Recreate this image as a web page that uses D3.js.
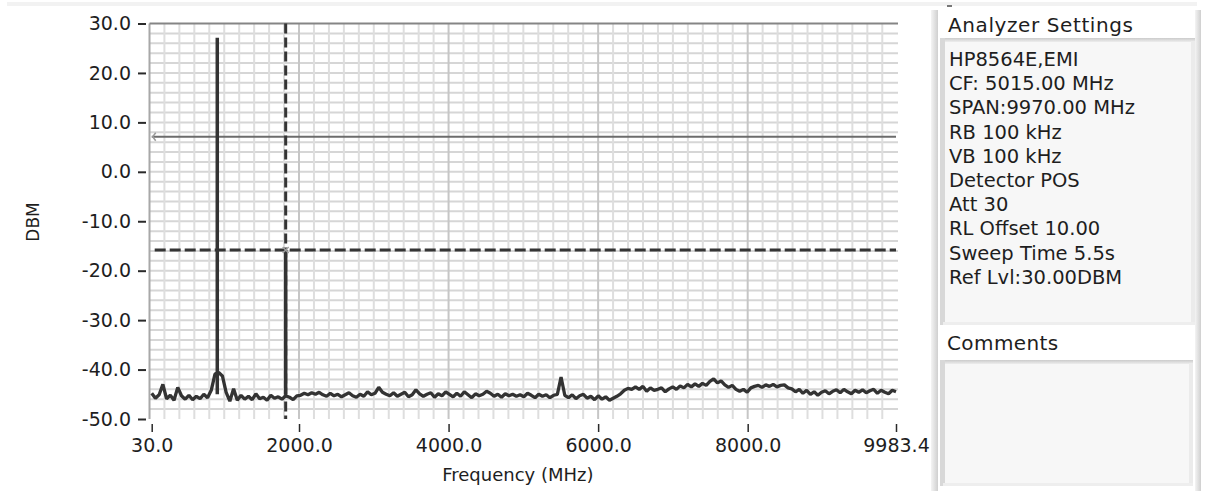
<!DOCTYPE html>
<html>
<head>
<meta charset="utf-8">
<script src="https://cdn.jsdelivr.net/npm/d3@7"></script>
<style>
  html, body { margin: 0; padding: 0; background: #ffffff; }
  svg { display: block; font-family: "DejaVu Sans", Verdana, sans-serif; }
</style>
</head>
<body>
<svg id="chart" width="1205" height="491"></svg>
<script>
// ---- Sweep data (HP8564E, 30 MHz .. 9983.4 MHz, 201 trace bins) ----
const freqStart = 30.0;
const freqStop = 9983.4;
const traceLevels = [
  -44.8, -45.8, -45.1, -43.0, -45.9, -45.2, -46.2, -43.6, -45.3, -46.0,
  -45.2, -46.1, -45.4, -45.9, -45.0, -45.7, -44.2, -40.9, -40.6, -41.3,
  -44.6, -46.4, -43.9, -46.2, -45.2, -46.0, -45.4, -46.1, -44.9, -45.9,
  -45.6, -46.2, -45.2, -45.8, -45.5, -46.0, -45.3, -45.6, -46.1, -45.3,
  -45.2, -44.8, -45.1, -44.7, -45.0, -44.6, -45.1, -45.4, -44.8, -45.3,
  -45.0, -45.5, -45.1, -44.7, -45.3, -45.6, -45.0, -45.4, -44.5, -45.1,
  -44.8, -43.6, -44.6, -45.0, -45.3, -44.7, -45.4, -45.0, -44.6, -45.5,
  -45.1, -44.1, -44.9, -45.4, -45.0, -44.7, -45.6, -44.9, -45.3, -44.5,
  -45.0, -45.5, -44.8, -45.4, -44.5, -45.1, -45.7, -44.9, -45.3, -45.0,
  -44.4, -44.8, -45.4, -45.0, -45.6, -44.9, -45.3, -45.0, -45.4, -45.1,
  -45.5, -44.8, -45.2, -45.7, -45.0, -45.4, -45.1, -45.7, -45.2, -45.0,
  -41.5, -45.2, -45.7, -45.1, -45.9, -45.3, -45.0, -45.8, -45.4, -46.1,
  -45.3, -46.0, -45.5, -46.2, -45.8, -45.4, -44.9, -44.2, -43.8, -44.0,
  -43.5, -44.0, -43.4, -44.4, -43.7, -44.2, -44.0, -43.7, -44.5, -43.9,
  -43.5, -44.0, -43.3, -43.7, -43.0, -43.5, -42.9, -43.4, -42.8, -43.2,
  -42.4, -41.9, -42.7, -42.3, -43.1, -43.6, -43.2, -44.0, -44.4, -44.0,
  -44.6, -43.7, -43.4, -43.2, -43.6, -43.1, -43.4, -43.0, -43.5, -43.2,
  -43.1, -43.7, -43.9, -44.5, -44.0, -44.8, -44.2, -45.0, -44.5, -45.2,
  -44.6, -44.3, -44.9, -44.4, -44.1, -44.7, -44.0, -44.5, -44.9, -44.2,
  -44.6, -44.1, -44.7, -44.3, -44.0, -44.8, -44.2, -44.6, -44.9, -44.2,
  -44.5
];

// Narrow carriers that rise out of the noise floor
const peakFreqs = [907.0, 1821.7];
const peakLevels = [27.1, -15.8];

// ---- Axis ticks ----
const xTickValues = [30.0, 2000.0, 4000.0, 6000.0, 8000.0, 9983.4];
const yTickValues = [30, 20, 10, 0, -10, -20, -30, -40, -50];

// ---- Cursors and limit line ----
const limitLevel = 7.1;
const cursorFreq = 1821.7;
const cursorLevel = -15.8;

// ---- Side panel text ----
const settingsTitle = "Analyzer Settings";
const settingsLines = [
  "HP8564E,EMI",
  "CF: 5015.00 MHz",
  "SPAN:9970.00 MHz",
  "RB 100 kHz",
  "VB 100 kHz",
  "Detector POS",
  "Att 30",
  "RL Offset 10.00",
  "Sweep Time 5.5s",
  "Ref Lvl:30.00DBM"
];
const commentsTitle = "Comments";

// ---- Layout ----
const svg = d3.select("#chart");
const plot = { left: 151.7, right: 896, top: 23.5, bottom: 419 };
const frameLeft = 149.5;

const x = d3.scaleLinear().domain([freqStart, freqStop]).range([plot.left, plot.right]);
const y = d3.scaleLinear().domain([-50, 30]).range([plot.bottom, plot.top]);

const binStep = (freqStop - freqStart) / (traceLevels.length - 1);
const trace = traceLevels.map((v, i) => ({ f: freqStart + i * binStep, v }));
const peaks = peakFreqs.map((f, i) => ({ f, v: peakLevels[i] }));

// faint strip along the top of the window
svg.append("rect").attr("x", 7).attr("y", 2).attr("width", 1190).attr("height", 4).attr("fill", "#f2f2f2");

// ---- Grid ----
const grid = svg.append("g");
const hLevels = d3.range(-48, 30, 2);
grid.selectAll("line.h").data(hLevels).join("line")
  .attr("x1", frameLeft).attr("x2", plot.right + 2)
  .attr("y1", d => y(d)).attr("y2", d => y(d))
  .attr("stroke", "#d6d6d6").attr("stroke-width", 2);

const vMinor = d3.range(200, 9983, 200).filter(f => f % 2000 !== 0);
grid.selectAll("line.vm").data(vMinor).join("line")
  .attr("x1", d => x(d)).attr("x2", d => x(d))
  .attr("y1", plot.top).attr("y2", plot.bottom)
  .attr("stroke", "#dedede").attr("stroke-width", 2);

const vMajor = [2000, 4000, 6000, 8000];
grid.selectAll("line.vM").data(vMajor).join("line")
  .attr("x1", d => x(d)).attr("x2", d => x(d))
  .attr("y1", plot.top).attr("y2", plot.bottom)
  .attr("stroke", "#c6c6c6").attr("stroke-width", 2);

// frame: left and top edges
grid.append("line").attr("x1", frameLeft).attr("x2", frameLeft)
  .attr("y1", plot.top).attr("y2", plot.bottom).attr("stroke", "#a8a8a8").attr("stroke-width", 2);
grid.append("line").attr("x1", frameLeft).attr("x2", plot.right + 2)
  .attr("y1", plot.top).attr("y2", plot.top).attr("stroke", "#858585").attr("stroke-width", 2);

// ---- Limit line ----
svg.append("line")
  .attr("x1", plot.left).attr("x2", plot.right)
  .attr("y1", y(limitLevel)).attr("y2", y(limitLevel))
  .attr("stroke", "#6c6c6c").attr("stroke-width", 2);
svg.append("path")
  .attr("d", `M${plot.left + 4},${y(limitLevel) - 4} L${plot.left + 1},${y(limitLevel)} L${plot.left + 4},${y(limitLevel) + 4}`)
  .attr("fill", "none").attr("stroke", "#9a9a9a").attr("stroke-width", 1.5);

// ---- Cursors ----
svg.append("line")
  .attr("x1", x(cursorFreq)).attr("x2", x(cursorFreq))
  .attr("y1", plot.top).attr("y2", plot.bottom)
  .attr("stroke", "#353535").attr("stroke-width", 3).attr("stroke-dasharray", "10,4");
svg.append("line")
  .attr("x1", plot.left + 3).attr("x2", plot.right)
  .attr("y1", y(cursorLevel)).attr("y2", y(cursorLevel))
  .attr("stroke", "#353535").attr("stroke-width", 3).attr("stroke-dasharray", "11,4");

// ---- Trace ----
const line = d3.line().x(d => x(d.f)).y(d => y(d.v));
svg.append("path").datum(trace)
  .attr("d", line)
  .attr("fill", "none").attr("stroke", "#333333").attr("stroke-width", 3.3)
  .attr("stroke-linejoin", "bevel");

// carrier spikes: vertical strokes from the noise floor to the peak level
svg.selectAll("line.peak").data(peaks).join("line")
  .attr("x1", d => x(d.f)).attr("x2", d => x(d.f))
  .attr("y1", y(-45)).attr("y2", d => y(d.v))
  .attr("stroke", "#333333").attr("stroke-width", 3.5);

// cursor marker
const cx = x(cursorFreq), cy = y(cursorLevel);
svg.append("path")
  .attr("d", `M${cx - 3},${cy - 3} L${cx + 3},${cy + 3} M${cx - 3},${cy + 3} L${cx + 3},${cy - 3}`)
  .attr("stroke", "#a0a0a0").attr("stroke-width", 1.5);

// ---- Axes ----
const yAxis = d3.axisLeft(y).tickValues(yTickValues).tickSize(8).tickPadding(7)
  .tickFormat(d => d.toFixed(1));
const gy = svg.append("g").attr("transform", "translate(146,0)").call(yAxis);
gy.select(".domain").remove();
gy.selectAll(".tick line").attr("stroke", "#2a2a2a").attr("stroke-width", 2);
gy.selectAll(".tick text").attr("fill", "#1e1e1e");
gy.attr("font-family", "DejaVu Sans, Verdana, sans-serif").attr("font-size", 19);

const xAxis = d3.axisBottom(x).tickValues(xTickValues).tickSize(8).tickPadding(7)
  .tickFormat(d => d.toFixed(1));
const gx = svg.append("g").attr("transform", "translate(0,424)").call(xAxis);
gx.select(".domain").remove();
gx.selectAll(".tick line").attr("stroke", "#2a2a2a").attr("stroke-width", 1.5);
gx.selectAll(".tick text").attr("fill", "#1e1e1e");
gx.attr("font-family", "DejaVu Sans, Verdana, sans-serif").attr("font-size", 19);

// axis titles
svg.append("text")
  .attr("x", (plot.left + plot.right) / 2 - 6).attr("y", 481)
  .attr("text-anchor", "middle").attr("font-size", 18).attr("fill", "#1e1e1e")
  .text("Frequency (MHz)");
svg.append("text")
  .attr("transform", "translate(39,222) rotate(-90)")
  .attr("text-anchor", "middle").attr("font-size", 17).attr("fill", "#1e1e1e")
  .text("DBM");

// ---- Side panel ----
const panel = svg.append("g");
const defs = svg.append("defs");
const gH = defs.append("linearGradient").attr("id", "edgeH").attr("x1", 0).attr("x2", 1).attr("y1", 0).attr("y2", 0);
gH.append("stop").attr("offset", 0).attr("stop-color", "#f4f4f4");
gH.append("stop").attr("offset", 1).attr("stop-color", "#cfcfcf");
const gV = defs.append("linearGradient").attr("id", "edgeV").attr("x1", 0).attr("x2", 0).attr("y1", 0).attr("y2", 1);
gV.append("stop").attr("offset", 0).attr("stop-color", "#cbcbcb");
gV.append("stop").attr("offset", 1).attr("stop-color", "#ededed");

// outer left and right borders of the panel
panel.append("rect").attr("x", 931).attr("y", 10).attr("width", 7).attr("height", 481).attr("fill", "url(#edgeH)");
panel.append("rect").attr("x", 1195).attr("y", 10).attr("width", 6).attr("height", 481).attr("fill", "url(#edgeH)");
panel.append("rect").attr("x", 947).attr("y", 5).attr("width", 5).attr("height", 2).attr("fill", "#777");

function sunkenBox(x0, y0, w, h) {
  panel.append("rect").attr("x", x0).attr("y", y0).attr("width", w).attr("height", h).attr("fill", "#f7f7f7");
  panel.append("rect").attr("x", x0).attr("y", y0).attr("width", w).attr("height", 4).attr("fill", "url(#edgeV)");
  panel.append("rect").attr("x", x0).attr("y", y0).attr("width", 5).attr("height", h).attr("fill", "#d8d8d8");
  panel.append("rect").attr("x", x0 + w - 4).attr("y", y0 + 3).attr("width", 4).attr("height", h - 3).attr("fill", "#ebebeb");
  panel.append("rect").attr("x", x0 + 3).attr("y", y0 + h - 3).attr("width", w - 3).attr("height", 3).attr("fill", "#eeeeee");
}
sunkenBox(940, 38, 255, 287);
sunkenBox(940, 360, 253, 126);

panel.append("text").attr("x", 948).attr("y", 32).attr("font-size", 20).attr("letter-spacing", 0.6)
  .attr("fill", "#1e1e1e").text(settingsTitle);
panel.selectAll("text.setting").data(settingsLines).join("text")
  .attr("x", 949).attr("y", (d, i) => 66 + i * 24.2)
  .attr("font-size", 19.5).attr("fill", "#1e1e1e").text(d => d);
panel.append("text").attr("x", 947).attr("y", 350).attr("font-size", 20).attr("letter-spacing", 0.4)
  .attr("fill", "#1e1e1e").text(commentsTitle);
</script>
</body>
</html>
